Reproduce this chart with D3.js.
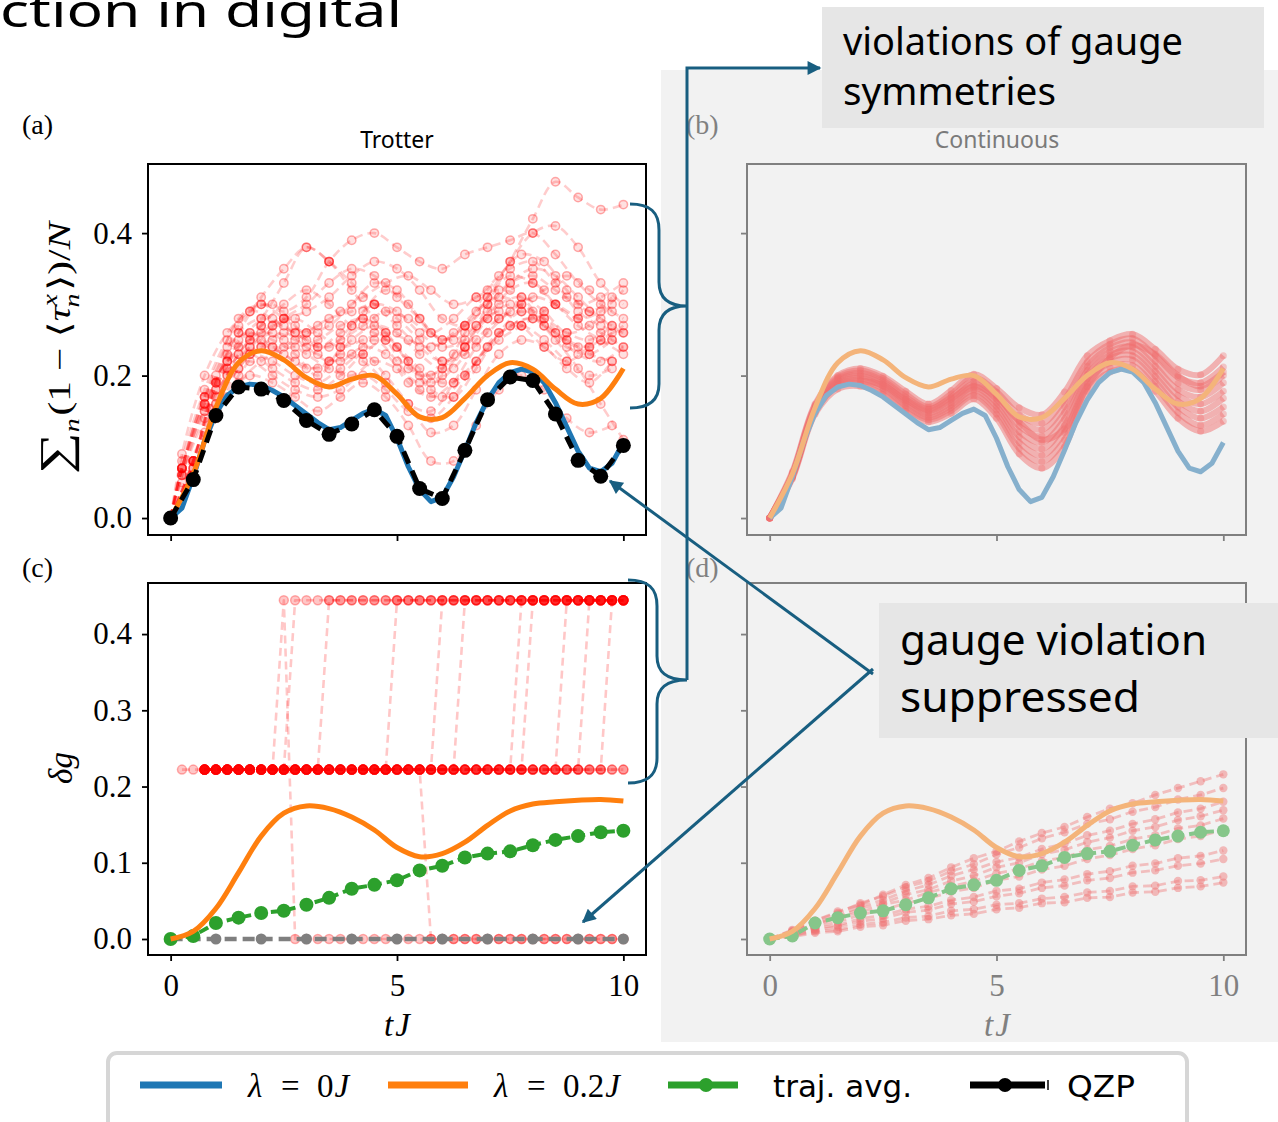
<!DOCTYPE html>
<html><head><meta charset="utf-8">
<script src="https://cdn.jsdelivr.net/npm/d3@7/dist/d3.min.js"></script>
<style>html,body{margin:0;padding:0;background:#fff;overflow:hidden}svg{display:block}</style>
</head><body>
<script>
// ================= DATA =================
const tHalf = [0,0.5,1,1.5,2,2.5,3,3.5,4,4.5,5,5.5,6,6.5,7,7.5,8,8.5,9,9.5,10];
const tHalfShifted = [0,0.25,0.75,1.25,1.75,2.25,2.75,3.25,3.75,4.25,4.75,5.25,5.75,6.25,6.75,7.25,7.75,8.25,8.75,9.25,9.75];
const tQuarter = [0,0.25,0.5,0.75,1,1.25,1.5,1.75,2,2.25,2.5,2.75,3,3.25,3.5,3.75,4,4.25,4.5,4.75,5,5.25,5.5,5.75,6,6.25,6.5,6.75,7,7.25,7.5,7.75,8,8.25,8.5,8.75,9,9.25,9.5,9.75,10];
const tInt = [0,1,2,3,4,5,6,7,8,9,10];

// panel (a)/(b): gauge violation sum
const lambda0 = [0,0.014,0.058,0.108,0.147,0.172,0.184,0.188,0.186,0.179,0.170,0.158,0.146,0.134,0.124,0.127,0.137,0.147,0.153,0.144,0.112,0.072,0.040,0.023,0.029,0.058,0.095,0.134,0.166,0.190,0.204,0.209,0.205,0.190,0.162,0.128,0.094,0.070,0.065,0.077,0.106];
const lambda02Top = [0,0.062,0.155,0.218,0.235,0.222,0.197,0.184,0.195,0.200,0.174,0.142,0.141,0.168,0.200,0.218,0.209,0.181,0.160,0.168,0.210];
const qzpTop = [0,0.054,0.144,0.184,0.181,0.165,0.137,0.1175,0.132,0.152,0.1147,0.0415,0.0275,0.095,0.166,0.198,0.193,0.146,0.081,0.0587,0.102];

const trajTrotterTop = [
 [0,0.07,0.15,0.20,0.24,0.26,0.24,0.22,0.23,0.25,0.22,0.18,0.17,0.20,0.24,0.27,0.28,0.26,0.24,0.25,0.27],
 [0,0.09,0.20,0.26,0.29,0.30,0.27,0.24,0.26,0.28,0.25,0.21,0.20,0.23,0.27,0.30,0.31,0.29,0.26,0.27,0.30],
 [0,0.08,0.18,0.25,0.28,0.33,0.38,0.36,0.33,0.30,0.27,0.24,0.22,0.24,0.28,0.32,0.33,0.30,0.27,0.25,0.23],
 [0,0.06,0.16,0.22,0.26,0.25,0.23,0.20,0.24,0.29,0.32,0.30,0.26,0.25,0.27,0.29,0.27,0.24,0.22,0.24,0.26],
 [0,0.08,0.19,0.27,0.30,0.29,0.31,0.36,0.39,0.40,0.38,0.36,0.35,0.37,0.38,0.39,0.40,0.37,0.33,0.30,0.28],
 [0,0.07,0.17,0.24,0.26,0.24,0.22,0.21,0.23,0.22,0.19,0.16,0.15,0.19,0.24,0.28,0.30,0.32,0.34,0.32,0.29],
 [0,0.08,0.19,0.26,0.31,0.35,0.38,0.36,0.32,0.28,0.24,0.20,0.21,0.26,0.31,0.36,0.40,0.41,0.38,0.33,0.30],
 [0,0.06,0.14,0.20,0.23,0.22,0.20,0.19,0.21,0.23,0.20,0.16,0.12,0.13,0.18,0.23,0.25,0.24,0.21,0.19,0.22],
 [0,0.07,0.16,0.21,0.24,0.23,0.21,0.22,0.25,0.27,0.26,0.23,0.21,0.24,0.30,0.36,0.42,0.472,0.45,0.433,0.44],
 [0,0.05,0.12,0.17,0.20,0.19,0.17,0.15,0.17,0.19,0.17,0.13,0.08,0.08,0.13,0.18,0.20,0.18,0.14,0.12,0.13],
 [0,0.08,0.18,0.24,0.27,0.28,0.29,0.31,0.34,0.36,0.35,0.32,0.28,0.27,0.30,0.33,0.34,0.32,0.30,0.31,0.33],
 [0,0.07,0.17,0.23,0.25,0.27,0.28,0.26,0.24,0.25,0.26,0.25,0.24,0.26,0.29,0.31,0.30,0.28,0.25,0.24,0.25],
 [0,0.06,0.15,0.21,0.25,0.28,0.30,0.33,0.35,0.34,0.31,0.28,0.25,0.27,0.32,0.35,0.36,0.33,0.29,0.27,0.26],
 [0,0.07,0.16,0.22,0.23,0.21,0.19,0.18,0.20,0.23,0.25,0.22,0.19,0.21,0.25,0.28,0.29,0.27,0.25,0.23,0.22],
 [0,0.08,0.19,0.26,0.28,0.27,0.25,0.24,0.27,0.30,0.29,0.26,0.24,0.25,0.28,0.30,0.29,0.26,0.23,0.22,0.24],
 [0,0.06,0.15,0.21,0.24,0.26,0.25,0.23,0.22,0.24,0.23,0.19,0.17,0.19,0.22,0.25,0.27,0.29,0.31,0.29,0.27],
 [0,0.07,0.17,0.23,0.27,0.30,0.32,0.30,0.27,0.26,0.24,0.21,0.19,0.20,0.24,0.27,0.28,0.25,0.21,0.16,0.11],
 [0,0.08,0.18,0.25,0.29,0.28,0.26,0.27,0.29,0.31,0.33,0.34,0.32,0.30,0.31,0.34,0.37,0.36,0.32,0.29,0.31],
 [0,0.06,0.14,0.19,0.22,0.24,0.26,0.28,0.29,0.30,0.28,0.25,0.22,0.23,0.26,0.29,0.31,0.30,0.28,0.26,0.24],
 [0,0.07,0.17,0.22,0.25,0.24,0.24,0.25,0.27,0.28,0.26,0.22,0.18,0.17,0.21,0.26,0.29,0.28,0.26,0.25,0.27],
 [0,0.06,0.16,0.23,0.26,0.25,0.23,0.21,0.20,0.22,0.21,0.19,0.20,0.24,0.29,0.33,0.35,0.34,0.31,0.28,0.26],
 [0,0.07,0.16,0.21,0.22,0.20,0.18,0.17,0.18,0.20,0.18,0.15,0.14,0.17,0.22,0.26,0.27,0.25,0.22,0.20,0.21],
 [0,0.08,0.20,0.28,0.30,0.28,0.26,0.27,0.30,0.33,0.32,0.28,0.25,0.27,0.31,0.34,0.33,0.30,0.28,0.29,0.32],
 [0,0.07,0.15,0.20,0.24,0.27,0.26,0.24,0.25,0.27,0.29,0.28,0.26,0.28,0.31,0.32,0.31,0.27,0.24,0.23,0.25]
];

const trajContTop = [
 [0,0.055,0.146,0.181,0.185,0.174,0.150,0.135,0.147,0.167,0.140,0.090,0.070,0.100,0.178,0.205,0.208,0.178,0.140,0.122,0.136],
 [0,0.057,0.149,0.185,0.189,0.178,0.154,0.138,0.151,0.172,0.146,0.098,0.079,0.110,0.184,0.212,0.214,0.185,0.148,0.130,0.146],
 [0,0.058,0.151,0.188,0.193,0.182,0.158,0.141,0.155,0.176,0.152,0.106,0.088,0.120,0.190,0.218,0.222,0.192,0.156,0.140,0.156],
 [0,0.059,0.152,0.190,0.196,0.185,0.161,0.144,0.158,0.180,0.157,0.114,0.097,0.130,0.196,0.224,0.228,0.199,0.164,0.150,0.168],
 [0,0.060,0.153,0.192,0.199,0.188,0.164,0.147,0.162,0.184,0.162,0.121,0.106,0.139,0.201,0.229,0.234,0.206,0.172,0.160,0.178],
 [0,0.061,0.155,0.194,0.201,0.190,0.167,0.150,0.166,0.188,0.167,0.129,0.115,0.148,0.207,0.234,0.240,0.213,0.180,0.170,0.190],
 [0,0.062,0.156,0.196,0.204,0.193,0.170,0.153,0.170,0.192,0.172,0.137,0.124,0.157,0.213,0.239,0.246,0.220,0.189,0.180,0.200],
 [0,0.063,0.158,0.198,0.207,0.196,0.174,0.156,0.174,0.197,0.177,0.145,0.133,0.166,0.219,0.244,0.252,0.228,0.198,0.190,0.212],
 [0,0.065,0.160,0.200,0.210,0.199,0.178,0.160,0.179,0.202,0.182,0.155,0.145,0.177,0.228,0.249,0.258,0.237,0.209,0.201,0.228],
 [0,0.059,0.150,0.186,0.192,0.186,0.166,0.152,0.168,0.185,0.170,0.135,0.110,0.125,0.185,0.225,0.243,0.230,0.200,0.185,0.205]
];

// panel (c)/(d): delta g
const lambda02Bottom = [0,0.010,0.040,0.087,0.135,0.165,0.1745,0.171,0.160,0.143,0.120,0.108,0.112,0.127,0.149,0.168,0.177,0.180,0.182,0.183,0.181];
const trajAvgBottom = [0,0.004,0.021,0.028,0.034,0.037,0.045,0.054,0.066,0.071,0.077,0.090,0.096,0.107,0.112,0.115,0.123,0.130,0.135,0.140,0.142];
const qzpBottom = [0,0,0,0,0,0,0,0,0,0,0];
const jumpLevels = [0, 0.2222, 0.4444];
// one character per quarter time step: '-' = no point, digit = index into jumpLevels
const trajTrotterBottom = [
 "-"+"1111111111"+"1111111111"+"1111111111"+"1111111111",
 "---"+"1111111111"+"1111111111"+"1111111111"+"11111111",
 "---"+"1111111"+"2"+"0000000000"+"0000000000"+"0000000000",
 "---"+"11111111"+"2222222222"+"2222222222"+"2222222222",
 "---"+"11111111111"+"2222222222"+"2222222222"+"2222222",
 "---"+"1111111111"+"1111111"+"2222222222"+"2222222222"+"2",
 "---"+"1111111111"+"1111111111"+"0000000000"+"00000000",
 "---"+"1111111111"+"1111111111"+"1"+"2222222222"+"2222222",
 "---"+"1111111111"+"1111111111"+"111"+"2222222222"+"22222",
 "---"+"1111111111"+"1111111111"+"11111111"+"2222222222",
 "---"+"1111111111"+"1111111111"+"111111111"+"222222222",
 "---"+"1111111111"+"1111111111"+"1111111111"+"11"+"222222",
 "---"+"1111111111"+"1111111111"+"1111111111"+"1111"+"2222",
 "---"+"1111111111"+"1111111111"+"1111111111"+"111111"+"22"
];
const trajContBottom = [
 [0,0.012,0.024,0.036,0.045,0.058,0.071,0.080,0.094,0.106,0.115,0.128,0.139,0.147,0.160,0.171,0.178,0.189,0.198,0.207,0.216],
 [0,0.008,0.017,0.028,0.035,0.045,0.051,0.061,0.069,0.076,0.086,0.092,0.102,0.107,0.117,0.122,0.131,0.136,0.145,0.149,0.158],
 [0,0.006,0.014,0.018,0.027,0.031,0.039,0.043,0.051,0.055,0.063,0.066,0.074,0.078,0.085,0.089,0.096,0.099,0.106,0.109,0.116],
 [0,0.004,0.010,0.012,0.019,0.022,0.028,0.030,0.037,0.039,0.045,0.047,0.053,0.055,0.061,0.063,0.069,0.070,0.076,0.077,0.082],
 [0,0.010,0.021,0.030,0.043,0.051,0.063,0.071,0.083,0.091,0.101,0.107,0.118,0.125,0.136,0.142,0.151,0.157,0.166,0.171,0.180],
 [0,0.007,0.016,0.022,0.032,0.038,0.047,0.053,0.062,0.067,0.077,0.082,0.091,0.096,0.105,0.110,0.118,0.123,0.131,0.135,0.143],
 [0,0.005,0.012,0.016,0.023,0.027,0.035,0.038,0.046,0.049,0.056,0.060,0.067,0.070,0.077,0.080,0.087,0.090,0.096,0.099,0.105],
 [0,0.009,0.020,0.028,0.040,0.047,0.058,0.065,0.076,0.083,0.094,0.100,0.111,0.117,0.127,0.133,0.142,0.147,0.156,0.161,0.169],
 [0,0.003,0.008,0.010,0.016,0.018,0.024,0.026,0.031,0.033,0.039,0.041,0.047,0.048,0.054,0.055,0.061,0.062,0.067,0.069,0.074],
 [0,0.011,0.024,0.034,0.047,0.056,0.068,0.076,0.089,0.098,0.111,0.120,0.132,0.140,0.151,0.157,0.167,0.173,0.183,0.189,0.198]
];

const xTickValues = [0,5,10];
const yTicksTop = [0,0.2,0.4];
const yTicksBottom = [0,0.1,0.2,0.3,0.4];
const panelLetters = ["(a)","(b)","(c)","(d)"];
const panelTitles = ["Trotter","Continuous"];
const legendLabels = ["λ = 0J","λ = 0.2J","traj. avg.","QZP"];
const calloutTop = ["violations of gauge","symmetries"];
const calloutBottom = ["gauge violation","suppressed"];
const titleFragment = "ction in digital";

// ================= DRAW =================
const W = 1278, H = 1122;
const C = {blue:"#1f77b4", orange:"#ff7f0e", green:"#2ca02c", red:"#ff0000", gray:"#7f7f7f"};
const CF = {blue:"#86b0cd", orange:"#f4b47a", green:"#86c68a", red:"#f07070"};
const ARROW = "#185e80";
const SERIF = "'Liberation Serif','DejaVu Serif',serif";
const SANS = "'Noto Sans','Open Sans',sans-serif";

const svg = d3.select("body").append("svg").attr("width",W).attr("height",H);
const defs = svg.append("defs");
svg.append("rect").attr("width",W).attr("height",H).attr("fill","#fff");
svg.append("rect").attr("x",661).attr("y",70).attr("width",W-661).attr("height",972).attr("fill","#f2f2f2");

svg.append("text").attr("x",0).attr("y",27).attr("fill","#000")
  .style("font-family",SANS).style("font-size","46px")
  .attr("textLength",402).attr("lengthAdjust","spacingAndGlyphs").text(titleFragment);

function makePanel(id,x0,x1,y0,y1,yDom,yTicks,faded,yLabels,xLabels){
  const x = d3.scaleLinear().domain([-0.5,10.5]).range([x0,x1]);
  const y = d3.scaleLinear().domain(yDom).range([y1,y0]);
  const fg = faded ? "#808080" : "#000";
  defs.append("clipPath").attr("id","clip"+id).append("rect")
    .attr("x",x0).attr("y",y0).attr("width",x1-x0).attr("height",y1-y0);
  const ay = svg.append("g").attr("transform",`translate(${x0},0)`)
    .call(d3.axisLeft(y).tickValues(yTicks).tickSize(6).tickPadding(10)
      .tickFormat(yLabels ? d3.format(".1f") : ()=>""));
  const ax = svg.append("g").attr("transform",`translate(0,${y1})`)
    .call(d3.axisBottom(x).tickValues(xTickValues).tickSize(6).tickPadding(13)
      .tickFormat(xLabels ? d3.format("d") : ()=>""));
  [ay,ax].forEach(a=>{
    a.select(".domain").remove();
    a.selectAll("line").attr("stroke",fg).attr("stroke-width",1.8);
    a.selectAll("text").attr("fill",fg).style("font-family",SERIF).style("font-size","31px");
  });
  const plot = svg.append("g").attr("clip-path",`url(#clip${id})`);
  const frame = ()=>svg.append("rect").attr("x",x0).attr("y",y0).attr("width",x1-x0).attr("height",y1-y0)
      .attr("fill","none").attr("stroke",fg).attr("stroke-width",2);
  return {x,y,plot,frame};
}

function series(g,P,ts,vals,o){
  const pts = ts.map((t,i)=>[t,vals[i]]).filter(p=>p[1]!=null && p[1]!==undefined);
  if (o.width) {
    g.append("path")
      .attr("d", d3.line().x(p=>P.x(p[0])).y(p=>P.y(p[1])).curve(o.curve||d3.curveLinear)(pts))
      .attr("fill","none").attr("stroke",o.color).attr("stroke-width",o.width)
      .attr("stroke-opacity",o.opacity==null?1:o.opacity)
      .attr("stroke-dasharray",o.dash||null).attr("stroke-linejoin","round")
      .attr("stroke-linecap",o.cap||"butt");
  }
  if (o.r) {
    g.selectAll(null).data(pts).enter().append("circle")
      .attr("cx",p=>P.x(p[0])).attr("cy",p=>P.y(p[1])).attr("r",o.r)
      .attr("fill",o.mcolor||o.color).attr("fill-opacity",o.mfill==null?1:o.mfill)
      .attr("stroke",o.mcolor||o.color).attr("stroke-opacity",o.mstroke==null?0:o.mstroke)
      .attr("stroke-width",1.5);
  }
}

// ---- panel (a)
const pa = makePanel("a",148,646,164,535,[-0.0238,0.497],yTicksTop,false,true,false);
trajTrotterTop.forEach((tr,i)=>series(pa.plot,pa,i%2?tHalfShifted:tHalf,tr,
  {color:C.red,width:2.6,opacity:0.2,dash:"9,5",r:4.2,mfill:0.12,mstroke:0.32,curve:d3.curveCatmullRom}));
series(pa.plot,pa,tQuarter,lambda0,{color:C.blue,width:5});
series(pa.plot,pa,tHalf,lambda02Top,{color:C.orange,width:5,curve:d3.curveCatmullRom});
series(pa.plot,pa,tHalf,qzpTop,{color:"#000",width:5,dash:"13,8",r:7.5});
pa.frame();

// ---- panel (b)
const pb = makePanel("b",747,1246,164,535,[-0.0238,0.497],yTicksTop,true,false,false);
trajContTop.forEach(tr=>series(pb.plot,pb,tHalf,tr,{color:CF.red,width:6,opacity:0.5,r:3.5,mfill:0.35,curve:d3.curveCatmullRom}));
series(pb.plot,pb,tQuarter,lambda0,{color:CF.blue,width:5});
series(pb.plot,pb,tHalf,lambda02Top,{color:CF.orange,width:5,curve:d3.curveCatmullRom});
pb.frame();

// ---- panel (c)
const pc = makePanel("c",148,646,583,955,[-0.021,0.467],yTicksBottom,false,true,true);
trajTrotterBottom.forEach(s=>{
  const vals = tQuarter.map((t,i)=>{const ch=s[i]; return (ch===undefined||ch==="-")?null:jumpLevels[+ch];});
  series(pc.plot,pc,tQuarter,vals,{color:C.red,width:2.6,opacity:0.22,dash:"8,5",r:4.5,mfill:0.22,mstroke:0.3});
});
series(pc.plot,pc,tInt,qzpBottom,{color:C.gray,width:4.5,dash:"12,6",r:5.5});
series(pc.plot,pc,tHalf,trajAvgBottom,{color:C.green,width:4,dash:"10,5",r:7});
series(pc.plot,pc,tHalf,lambda02Bottom,{color:C.orange,width:5,curve:d3.curveCatmullRom});
pc.frame();

// ---- panel (d)
const pd = makePanel("d",747,1246,583,955,[-0.021,0.467],yTicksBottom,true,false,true);
trajContBottom.forEach(tr=>series(pd.plot,pd,tHalf,tr,{color:CF.red,width:2.8,opacity:0.4,dash:"9,5",r:4.2,mfill:0.45}));
series(pd.plot,pd,tHalf,trajAvgBottom,{color:CF.green,width:4,dash:"10,5",r:6.5});
series(pd.plot,pd,tHalf,lambda02Bottom,{color:CF.orange,width:5,curve:d3.curveCatmullRom});
pd.frame();

// ---- panel letters & titles
[[22,134,"#000"],[686,134,"#808080"],[22,577,"#000"],[686,577,"#808080"]].forEach((p,i)=>{
  svg.append("text").attr("x",p[0]).attr("y",p[1]).attr("fill",p[2])
    .style("font-family",SERIF).style("font-size","28px").text(panelLetters[i]);
});
svg.append("text").attr("x",397).attr("y",148).attr("text-anchor","middle").attr("fill","#000")
  .style("font-family",SANS).style("font-size","23px").text(panelTitles[0]);
svg.append("text").attr("x",997).attr("y",148).attr("text-anchor","middle").attr("fill","#7a7a7a")
  .style("font-family",SANS).style("font-size","23px").text(panelTitles[1]);

// x labels tJ
[[397,"#000"],[997,"#808080"]].forEach(p=>{
  const t = svg.append("text").attr("x",p[0]).attr("y",1036).attr("text-anchor","middle").attr("fill",p[1])
    .style("font-family",SERIF).style("font-size","33px").style("font-style","italic");
  t.append("tspan").text("t");
  t.append("tspan").attr("dx",2).text("J");
});

// y label (a)
const yl = svg.append("text").attr("text-anchor","middle").attr("fill","#000")
  .style("font-family",SERIF).style("font-size","31px");
yl.append("tspan").style("font-size","44px").text("∑");
yl.append("tspan").style("font-size","21px").style("font-style","italic").attr("dy",9).text("n");
yl.append("tspan").attr("dy",-9).attr("dx",2).text("(1 − ⟨");
yl.append("tspan").style("font-style","italic").text("τ");
yl.append("tspan").style("font-size","21px").style("font-style","italic").attr("dy",-13).text("x");
yl.append("tspan").style("font-size","21px").style("font-style","italic").attr("dx",-10).attr("dy",22).text("n");
yl.append("tspan").attr("dy",-9).attr("dx",2).text("⟩)/");
yl.append("tspan").style("font-style","italic").text("N");
{
  const w = yl.node().getComputedTextLength();
  const s = w>0 ? 260/w : 1;
  yl.attr("transform",`translate(70,348) rotate(-90) scale(${s},1)`);
}
// y label (c)
const yl2 = svg.append("text").attr("text-anchor","middle").attr("fill","#000")
  .attr("transform","translate(72,768) rotate(-90)")
  .style("font-family",SERIF).style("font-size","33px").style("font-style","italic");
yl2.append("tspan").text("δ");
yl2.append("tspan").text("g");

// ---- legend
svg.append("rect").attr("x",108).attr("y",1053).attr("width",1079).attr("height",100).attr("rx",9)
  .attr("fill","#fff").attr("stroke","#d6d6d6").attr("stroke-width",4);
const legY = 1085, legBase = 1097;
svg.append("line").attr("x1",140).attr("x2",222).attr("y1",legY).attr("y2",legY).attr("stroke",C.blue).attr("stroke-width",7);
svg.append("line").attr("x1",388).attr("x2",468).attr("y1",legY).attr("y2",legY).attr("stroke",C.orange).attr("stroke-width",7);
svg.append("line").attr("x1",668).attr("x2",738).attr("y1",legY).attr("y2",legY).attr("stroke",C.green).attr("stroke-width",7);
svg.append("circle").attr("cx",706).attr("cy",legY).attr("r",7).attr("fill",C.green);
svg.append("line").attr("x1",970).attr("x2",1045).attr("y1",legY).attr("y2",legY).attr("stroke","#000").attr("stroke-width",7);
svg.append("line").attr("x1",1048).attr("x2",1048).attr("y1",legY-5).attr("y2",legY+5).attr("stroke","#000").attr("stroke-width",1.5);
svg.append("circle").attr("cx",1005).attr("cy",legY).attr("r",7).attr("fill","#000");
function mathLabel(x,str){
  // str like "λ = 0.2J": place λ, "=", and value+J at measured offsets
  const [lam, eq, rest] = str.split(" ");
  const t = svg.append("text").attr("y",legBase).attr("fill","#000")
    .style("font-family",SERIF).style("font-size","33px");
  t.append("tspan").attr("x",x).style("font-style","italic").text(lam);
  t.append("tspan").attr("x",x+33).text(eq);
  const num = rest.slice(0,-1), unit = rest.slice(-1);
  t.append("tspan").attr("x",x+69).text(num);
  t.append("tspan").attr("dx",1).style("font-style","italic").text(unit);
}
mathLabel(248,legendLabels[0]);
mathLabel(494,legendLabels[1]);
svg.append("text").attr("x",773).attr("y",legBase).attr("fill","#000")
  .style("font-family","'DejaVu Sans',sans-serif").style("font-size","30px")
  .attr("textLength",139).attr("lengthAdjust","spacingAndGlyphs").text(legendLabels[2]);
svg.append("text").attr("x",1067).attr("y",legBase).attr("fill","#000")
  .style("font-family","'DejaVu Sans',sans-serif").style("font-size","30px")
  .attr("textLength",68).attr("lengthAdjust","spacingAndGlyphs").text(legendLabels[3]);

// ---- callouts
svg.append("rect").attr("x",822).attr("y",7).attr("width",442).attr("height",121).attr("fill","#e6e6e6");
svg.append("text").attr("x",843).attr("y",55).style("font-family",SANS).style("font-size","38px").attr("fill","#000")
  .attr("textLength",340).attr("lengthAdjust","spacingAndGlyphs").text(calloutTop[0]);
svg.append("text").attr("x",843).attr("y",105).style("font-family",SANS).style("font-size","38px").attr("fill","#000")
  .attr("textLength",213).attr("lengthAdjust","spacingAndGlyphs").text(calloutTop[1]);
svg.append("rect").attr("x",879).attr("y",603).attr("width",W-879).attr("height",135).attr("fill","#e6e6e6");
svg.append("text").attr("x",900).attr("y",655).style("font-family",SANS).style("font-size","42px").attr("fill","#000")
  .attr("textLength",307).attr("lengthAdjust","spacingAndGlyphs").text(calloutBottom[0]);
svg.append("text").attr("x",900).attr("y",712).style("font-family",SANS).style("font-size","42px").attr("fill","#000")
  .attr("textLength",240).attr("lengthAdjust","spacingAndGlyphs").text(calloutBottom[1]);

// ---- braces and arrows
defs.append("marker").attr("id","ah").attr("viewBox","0 0 10 10").attr("refX",9).attr("refY",5)
  .attr("markerWidth",5.5).attr("markerHeight",4.6).attr("orient","auto").attr("markerUnits","strokeWidth")
  .append("path").attr("d","M0,0L10,5L0,10z").attr("fill",ARROW);
const ann = svg.append("g").attr("fill","none").attr("stroke",ARROW).attr("stroke-width",3);
ann.append("path").attr("d","M630,204 C650,204 659,212 659,230 L659,282 C659,298 668,306 687,306 C668,306 659,314 659,330 L659,384 C659,400 650,408 630,408");
ann.append("path").attr("d","M628,580 C648,580 657,588 657,606 L657,656 C657,672 666,680 687,680 C666,680 657,688 657,704 L657,758 C657,775 648,783 628,783");
ann.append("path").attr("d","M687,680 L687,68 L820,68").attr("marker-end","url(#ah)");
ann.append("path").attr("d","M873,674 L610,481").attr("marker-end","url(#ah)");
ann.append("path").attr("d","M873,669 L583,922").attr("marker-end","url(#ah)");
</script>
</body></html>
